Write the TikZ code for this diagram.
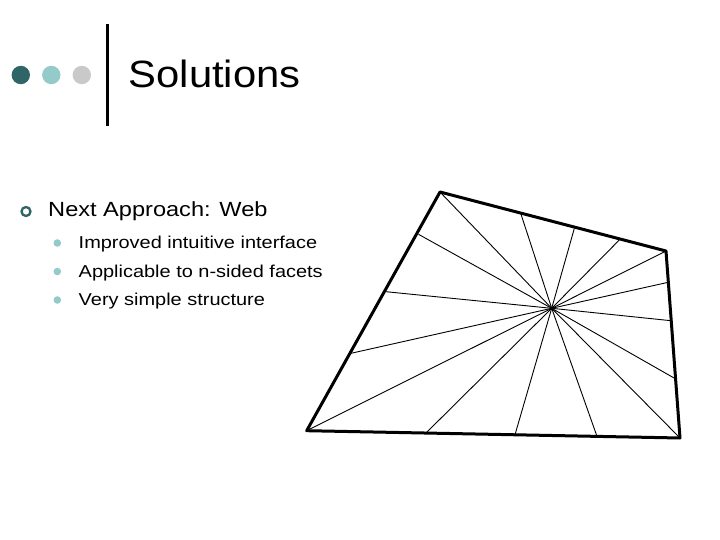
\documentclass[tikz,border=0pt]{standalone}
\usepackage{fontspec}
\setmainfont{Liberation Sans}
\definecolor{tealdark}{HTML}{2F6567}
\definecolor{teallight}{HTML}{95CACA}
\definecolor{greylight}{HTML}{C9C9C9}
\tikzset{
  rim/.style={draw=black,line width=3pt,line join=round},
  spoke/.style={draw=black,line width=0.9pt},
  txt/.style={anchor=base west,inner sep=0pt,transform shape},
  subtxt/.style={txt,xscale=1.16,font=\fontsize{17.2}{17.2}\selectfont},
  subdot/.style={fill=teallight}
}
\begin{document}
\begin{tikzpicture}[x=1pt,y=-1pt]
\useasboundingbox(0,0)rectangle(720,540);
% title bar
\fill[tealdark](20.8,75)circle(9.2);
\fill[teallight](51.3,75)circle(9.2);
\fill[greylight](81.8,75)circle(9.2);
\draw[line width=3pt](107.7,24)--(107.7,126);
\node[txt,xscale=1.1,font=\fontsize{38}{38}\selectfont](title)at(128.5,87.3){Solutions};
% bullets
\draw[tealdark,line width=2.3pt](26,211.5)circle(4.5);
\node[txt,xscale=1.15,font=\fontsize{20.5}{20.5}\selectfont](main)at(48,216.3){Next Approach: Web};
\fill[subdot](57.3,243)circle(3.8);
\fill[subdot](57.3,271.5)circle(3.8);
\fill[subdot](57.3,300)circle(3.8);
\node[subtxt](s1)at(78.5,248.5){Improved intuitive interface};
\node[subtxt](s2)at(78.5,277){Applicable to n-sided facets};
\node[subtxt](s3)at(78.5,305.5){Very simple structure};
% web
\coordinate(O)at(551.7,308.3);
\coordinate(A)at(440,192);
\coordinate(B)at(666,251);
\coordinate(C)at(680,438);
\coordinate(D)at(306.7,430.7);
\coordinate(t1)at(520.7,213.3);
\coordinate(t2)at(574.3,228.5);
\coordinate(t3)at(619.3,240);
\coordinate(r1)at(668.2,282.3);
\coordinate(r2)at(671,320.7);
\coordinate(r3)at(675.8,379);
\coordinate(b3)at(597,436.4);
\coordinate(b2)at(515,434.7);
\coordinate(b1)at(426,433);
\coordinate(l1)at(351,353.3);
\coordinate(l2)at(386,291.7);
\coordinate(l3)at(418.5,234.3);
\foreach \p in {A,t1,t2,t3,B,r1,r2,r3,C,b3,b2,b1,D,l1,l2,l3}
  \draw[spoke](O)--(\p);
\draw[rim](A)--(B)--(C)--(D)--cycle;
\end{tikzpicture}
\end{document}
